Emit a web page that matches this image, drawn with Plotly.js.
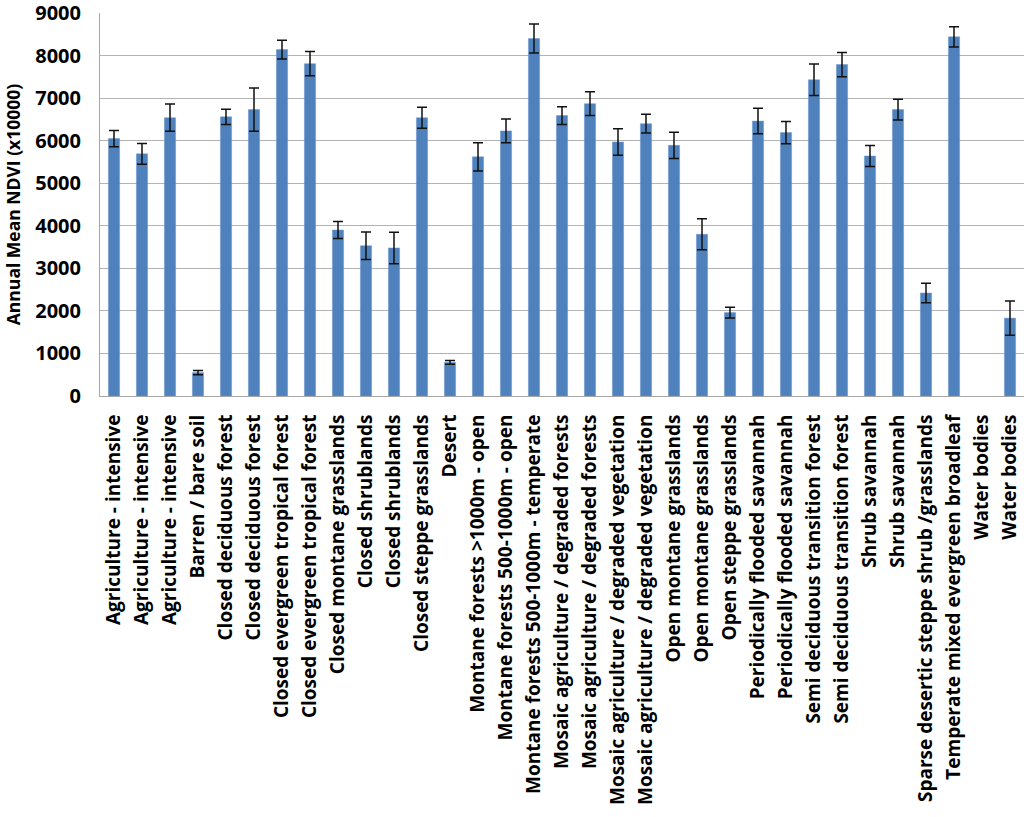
<!DOCTYPE html>
<html>
<head>
<meta charset="utf-8">
<script src="https://cdn.plot.ly/plotly-3.0.1.min.js"></script>
<style>
  html, body { margin: 0; padding: 0; background: #fff; }
  #chart { width: 1024px; height: 817px; }
</style>
</head>
<body>
<div id="chart"></div>
<script>
// land cover classes (some repeat, so the axis is positional)
const landCover = [
  'Agriculture - intensive', 'Agriculture - intensive', 'Agriculture - intensive',
  'Barren / bare soil',
  'Closed deciduous forest', 'Closed deciduous forest',
  'Closed evergreen tropical forest', 'Closed evergreen tropical forest',
  'Closed montane grasslands',
  'Closed shrublands', 'Closed shrublands',
  'Closed steppe grasslands',
  'Desert',
  'Montane forests >1000m - open',
  'Montane forests 500-1000m - open',
  'Montane forests 500-1000m - temperate',
  'Mosaic agriculture / degraded forests', 'Mosaic agriculture / degraded forests',
  'Mosaic agriculture / degraded vegetation', 'Mosaic agriculture / degraded vegetation',
  'Open montane grasslands', 'Open montane grasslands',
  'Open steppe grasslands',
  'Periodically flooded savannah', 'Periodically flooded savannah',
  'Semi deciduous transition forest', 'Semi deciduous transition forest',
  'Shrub savannah', 'Shrub savannah',
  'Sparse desertic steppe shrub /grasslands',
  'Temperate mixed evergreen broadleaf',
  'Water bodies', 'Water bodies'
];

// first "Water bodies" class has no value in the chart
const meanNdvi = [
  6050, 5690, 6540,
  550,
  6560, 6730,
  8140, 7810,
  3900,
  3530, 3480,
  6540,
  790,
  5620,
  6230,
  8400,
  6590, 6870,
  5970, 6400,
  5890, 3800,
  1960,
  6460, 6190,
  7430, 7790,
  5640, 6730,
  2420,
  8440,
  null, 1830
];

const stdErr = [
  190, 245, 320,
  50,
  180, 510,
  220, 285,
  200,
  325, 370,
  245,
  45,
  330,
  280,
  340,
  210, 280,
  310, 220,
  310, 365,
  125,
  300, 260,
  370, 285,
  245, 245,
  230,
  240,
  null, 400
];

const yTicks = [0, 1000, 2000, 3000, 4000, 5000, 6000, 7000, 8000, 9000];

const positions = landCover.map((_, i) => i);

const trace = {
  type: 'bar',
  x: positions,
  y: meanNdvi,
  width: 0.4,
  marker: { color: '#4f81bd', line: { color: '#6f98cc', width: 0.5 } },
  error_y: {
    type: 'data',
    array: stdErr,
    visible: true,
    color: '#111111',
    thickness: 1.5,
    width: 5
  },
  hoverinfo: 'x+y'
};

const layout = {
  width: 1024,
  height: 817,
  margin: { l: 100, r: 0, t: 13, b: 421 },
  paper_bgcolor: '#ffffff',
  plot_bgcolor: '#ffffff',
  font: { family: 'Open Sans, sans-serif', color: '#000000' },
  showlegend: false,
  xaxis: {
    range: [-0.5, landCover.length - 0.5],
    tickmode: 'array',
    tickvals: positions,
    ticktext: landCover,
    tickangle: -90,
    tickfont: { family: 'Open Sans, sans-serif', size: 19, color: '#000000', weight: 'bold' },
    ticklabelstandoff: 10,
    showgrid: false,
    showline: true,
    linecolor: '#a6a6a6',
    linewidth: 1,
    ticks: '',
    zeroline: false,
    automargin: false
  },
  yaxis: {
    range: [0, 9000.5],
    tickmode: 'array',
    tickvals: yTicks,
    ticktext: yTicks.map(String),
    tickfont: { family: 'Open Sans, sans-serif', size: 20, color: '#000000', weight: 'bold' },
    ticklabelstandoff: 14,
    ticklabeloverflow: 'allow',
    showgrid: true,
    gridcolor: '#b3b3b3',
    gridwidth: 1,
    showline: true,
    linecolor: '#a6a6a6',
    linewidth: 1,
    zeroline: false,
    ticks: '',
    automargin: false,
    title: {
      text: 'Annual Mean NDVI (x10000)',
      font: { family: 'Open Sans, sans-serif', size: 17.5, color: '#000000', weight: 'bold' },
      standoff: 10
    }
  }
};

Plotly.newPlot('chart', [trace], layout, { displayModeBar: false, staticPlot: true });
</script>
</body>
</html>
